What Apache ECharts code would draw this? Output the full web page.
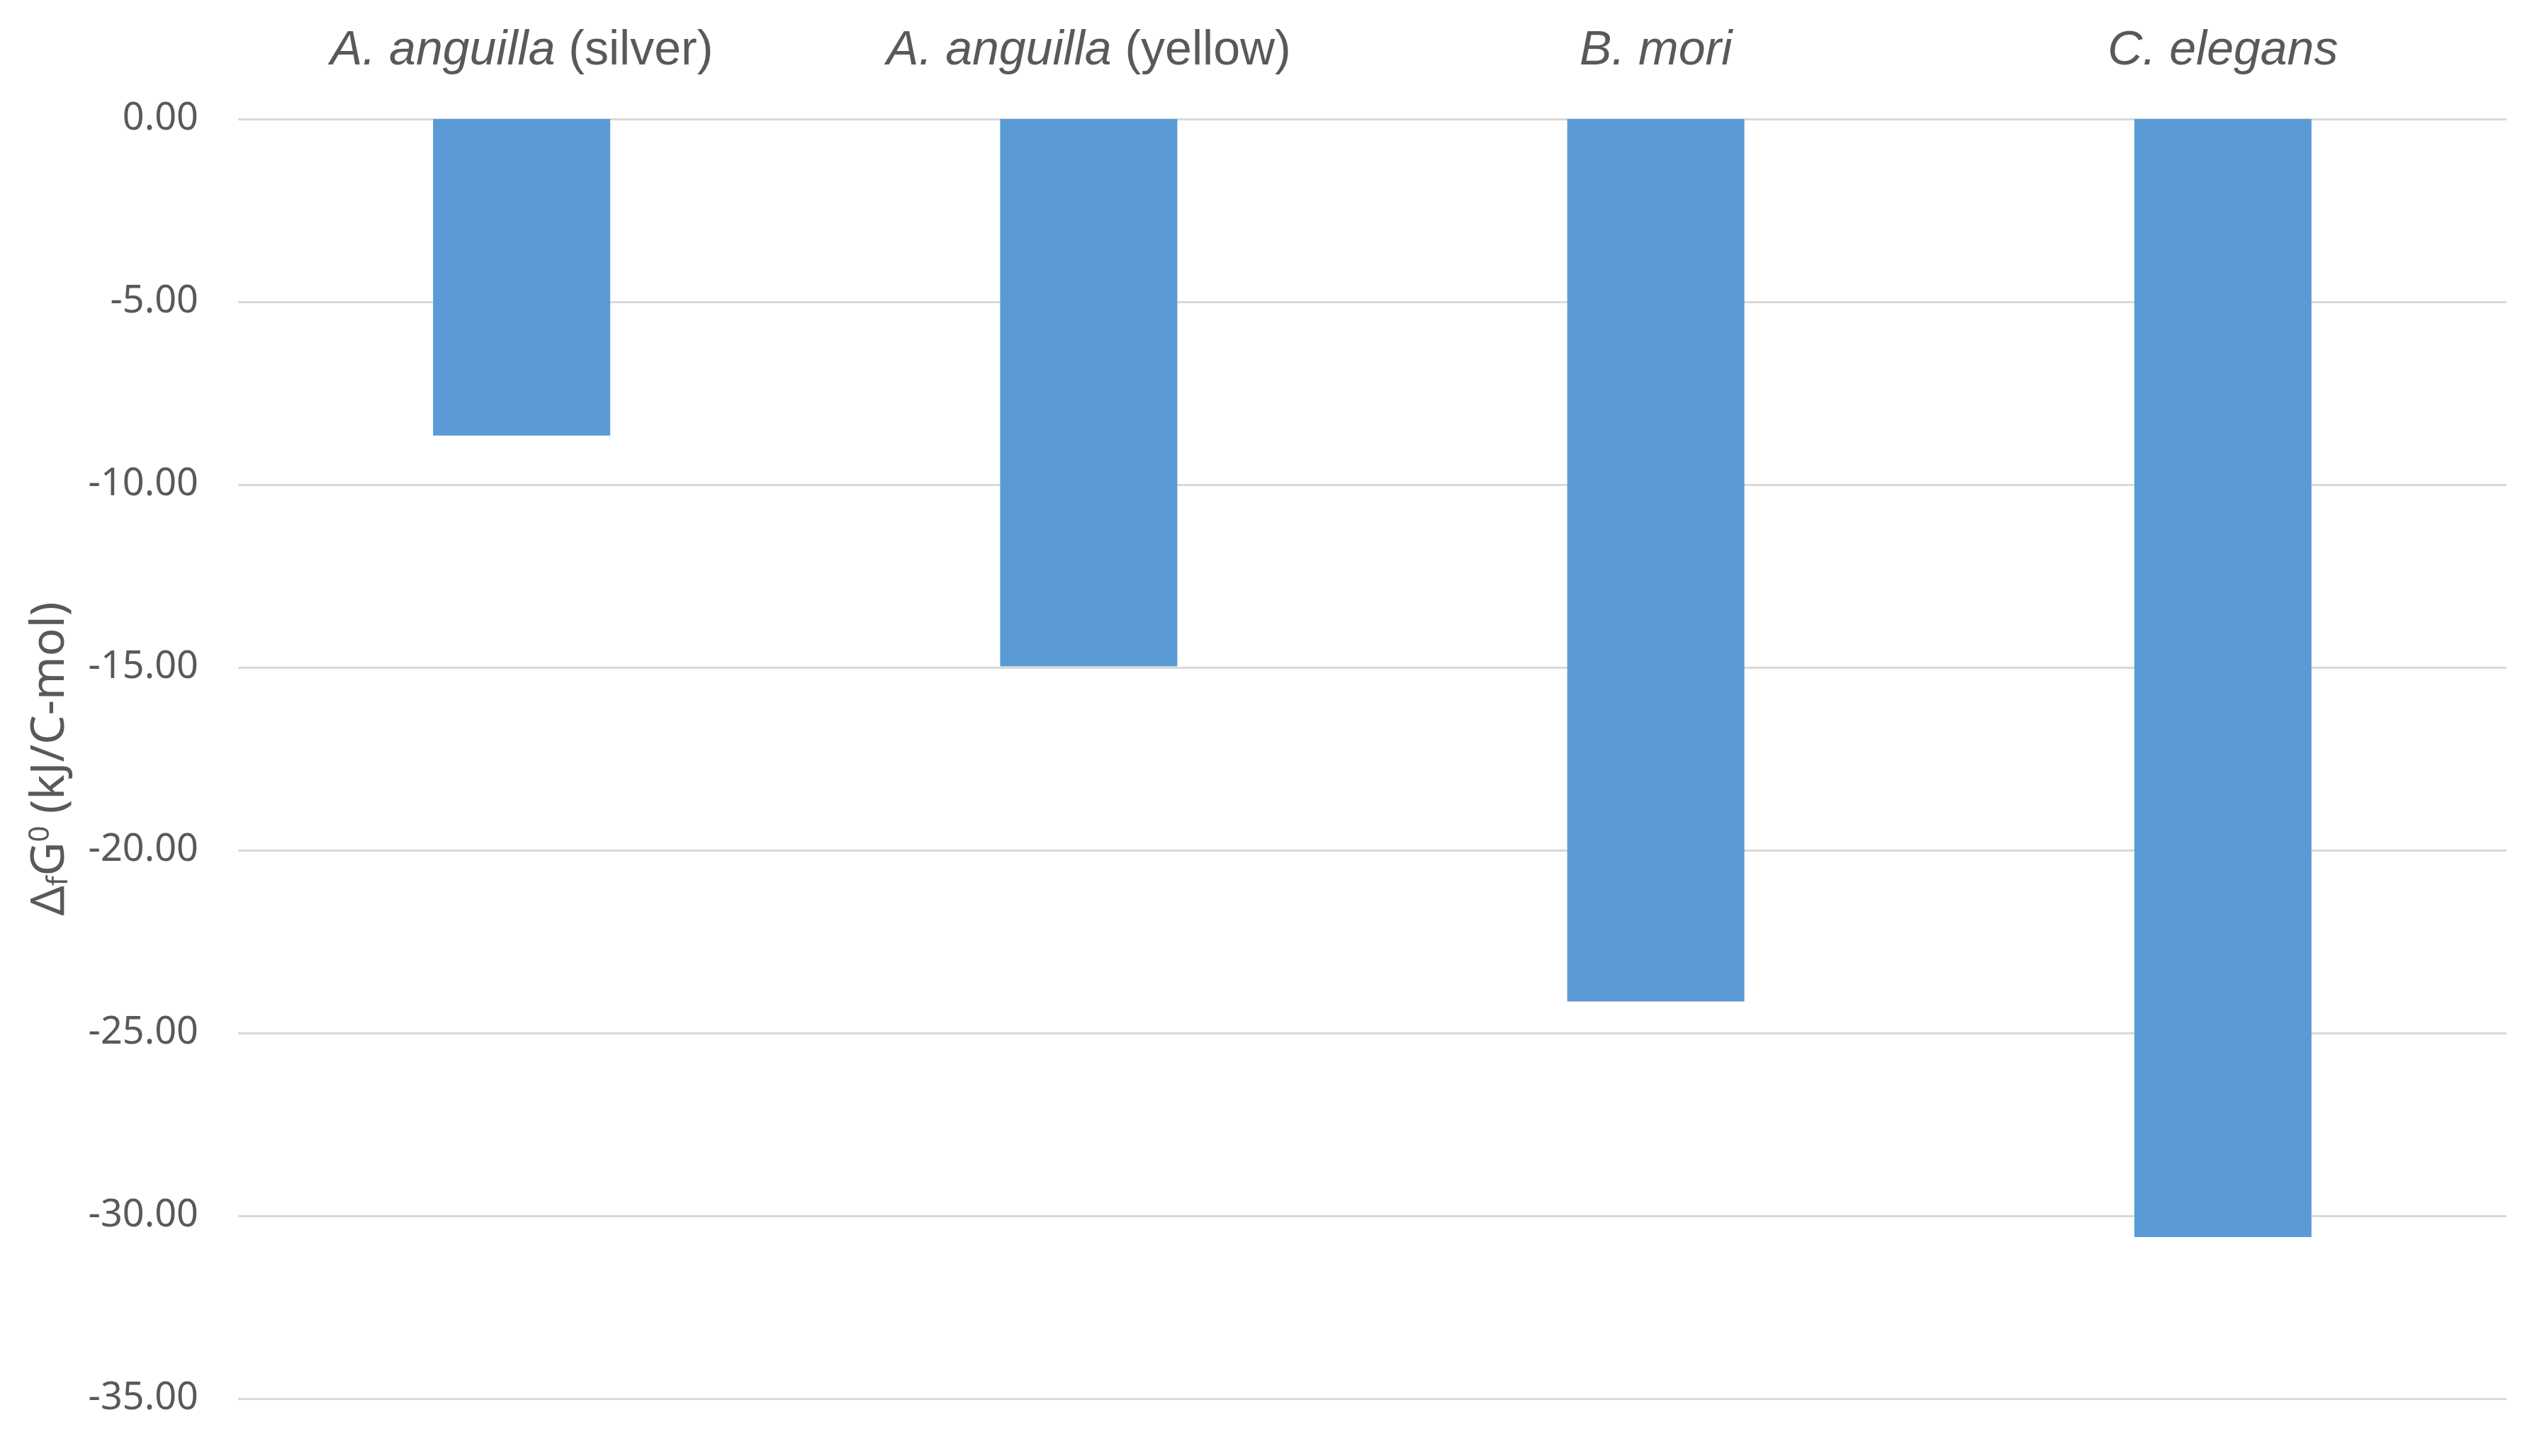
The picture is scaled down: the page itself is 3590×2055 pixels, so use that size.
<!DOCTYPE html>
<html>
<head>
<meta charset="utf-8">
<script src="https://cdn.jsdelivr.net/npm/echarts@6/dist/echarts.min.js"></script>
<style>html,body{margin:0;padding:0;background:#fff;}#c{width:3590px;height:2055px;}</style>
</head>
<body>
<div id="c"></div>
<script>
const categoryItalic = ['A. anguilla', 'A. anguilla', 'B. mori', 'C. elegans'];
const categorySuffix = [' (silver)', ' (yellow)', '', ''];
const values = [-8.66, -14.97, -24.14, -30.58];
const yTicks = { min: -35, max: 0, interval: 5 };

const categories = categoryItalic.map((c, i) => c + categorySuffix[i]);
const chart = echarts.init(document.getElementById('c'));
chart.setOption({
  backgroundColor: '#ffffff',
  animation: false,
  grid: { left: 336, right: 53, top: 168, bottom: 81 },
  xAxis: {
    type: 'category',
    position: 'top',
    data: categories,
    axisLine: { show: false },
    axisTick: { show: false },
    axisLabel: {
      interval: 0,
      margin: 62,
      color: '#595959',
      fontFamily: 'Liberation Sans',
      fontSize: 68,
      formatter: function (v, i) {
        const s = categorySuffix[i] ? '{n|' + categorySuffix[i] + '}' : '';
        return '{it|' + categoryItalic[i] + '}' + s;
      },
      rich: {
        it: { fontStyle: 'italic', fontFamily: 'Liberation Sans', fontSize: 68, color: '#595959' },
        n: { fontFamily: 'Liberation Sans', fontSize: 68, color: '#595959' }
      }
    }
  },
  yAxis: {
    type: 'value',
    min: yTicks.min,
    max: yTicks.max,
    interval: yTicks.interval,
    axisLine: { show: false },
    axisTick: { show: false },
    splitLine: { lineStyle: { color: '#d9d9d9', width: 3 } },
    axisLabel: {
      margin: 56,
      color: '#595959',
      fontFamily: 'Noto Sans',
      fontSize: 54,
      formatter: v => v.toFixed(2)
    },
    name: '{a|Δ}{sub|f}{a|G}{sup|0}{a| (kJ/C-mol)}',
    nameLocation: 'middle',
    nameRotate: 90,
    nameGap: 232,
    nameTextStyle: {
      rich: {
        a: { fontFamily: 'Noto Sans', fontSize: 66, color: '#595959', verticalAlign: 'middle' },
        sub: { fontFamily: 'Noto Sans', fontSize: 40, color: '#595959', verticalAlign: 'bottom', padding: [22, 0, 0, 0] },
        sup: { fontFamily: 'Noto Sans', fontSize: 40, color: '#595959', verticalAlign: 'top', padding: [0, 0, 20, 0] }
      }
    }
  },
  series: [{
    type: 'bar',
    data: values,
    barWidth: 250,
    itemStyle: { color: '#5b9bd5' }
  }]
});
</script>
</body>
</html>
